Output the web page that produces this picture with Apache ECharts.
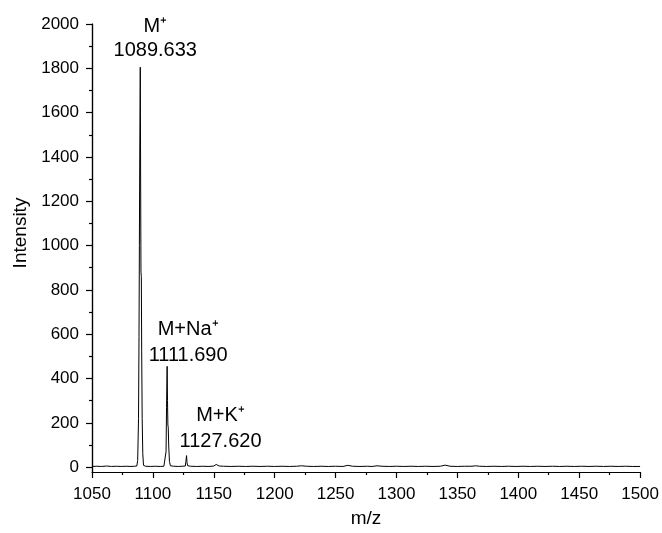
<!DOCTYPE html>
<html>
<head>
<meta charset="utf-8">
<script src="https://cdn.jsdelivr.net/npm/echarts@6/dist/echarts.min.js"></script>
<style>html,body{margin:0;padding:0;background:#fff;}#c{width:662px;height:533px;}</style>
</head>
<body>
<div id="c"></div>
<script>
// m/z sample positions
const mz = [
  1050, 1054, 1058, 1062, 1066, 1070, 1074, 1078, 1082, 1085, 1086.8,
  1087.5, 1088.2, 1088.6, 1088.9, 1089.2, 1089.633, 1089.9, 1090.2, 1090.5, 1090.8, 1091.2, 1091.7, 1092.3,
  1094, 1098, 1102, 1106, 1109, 1110.2,
  1110.8, 1111.2, 1111.69, 1112.0, 1112.3, 1112.6, 1113.0, 1113.6, 1114.4,
  1117, 1121, 1124, 1126.6, 1127.1, 1127.62, 1128.0, 1128.6,
  1131, 1136, 1141, 1146, 1150, 1152, 1153, 1154.5, 1158, 1164, 1170, 1176, 1182, 1188, 1194,
  1200, 1206, 1212, 1218, 1222, 1226, 1232, 1238, 1244, 1250, 1256, 1260, 1264, 1270, 1276,
  1280, 1284, 1288, 1294, 1300, 1306, 1312, 1318, 1324, 1330, 1336, 1340, 1344, 1350, 1356,
  1362, 1365, 1368, 1374, 1380, 1386, 1392, 1398, 1404, 1410, 1416, 1422, 1428, 1434, 1440,
  1446, 1452, 1458, 1464, 1470, 1476, 1482, 1488, 1494, 1500
];
// intensity at each m/z
const intensity = [
  3, 4, 3, 5, 3, 4, 3, 4, 3, 4, 5,
  30, 220, 590, 1000, 1400, 1805, 1350, 880, 860, 520, 220, 60, 8,
  4, 3, 4, 3, 4, 5,
  70, 270, 455, 300, 190, 180, 95, 25, 6,
  4, 3, 4, 5, 25, 52, 20, 6,
  4, 3, 4, 3, 5, 12, 10, 5, 4, 3, 4, 3, 4, 3, 4,
  3, 4, 3, 4, 6, 4, 3, 4, 3, 4, 3, 8, 4, 3, 4,
  3, 6, 4, 3, 4, 3, 4, 3, 4, 3, 4, 9, 4, 3, 4,
  4, 6, 4, 3, 4, 3, 4, 3, 4, 3, 4, 3, 4, 3, 4,
  3, 4, 3, 4, 3, 4, 3, 4, 3, 3
];
// annotations
const labelMz = [1089.633, 1111.69, 1127.62];
const labelIntensity = [1805, 455, 52];
const labelText = ['M\u207A\n1089.633', 'M+Na\u207A\n1111.690', 'M+K\u207A\n1127.620'];
// axis ticks
const yTicks = [0, 200, 400, 600, 800, 1000, 1200, 1400, 1600, 1800, 2000];
const yMinorTicks = [100, 300, 500, 700, 900, 1100, 1300, 1500, 1700, 1900];

const labelOffsets = [[15, 0], [21, 7], [34, 4]];
const lineHeights = [24, 26, 26];
const font = 'Liberation Sans, Arial, sans-serif';

const chart = echarts.init(document.getElementById('c'), null, {renderer: 'canvas'});
const axisCommon = {
  axisLine: {show: true, lineStyle: {color: '#000', width: 1.2}},
  splitLine: {show: false}
};
const plain = v => String(v);
chart.setOption({
  animation: false,
  backgroundColor: '#fff',
  grid: {left: 92, right: 20, top: 24, bottom: 59, containLabel: false},
  xAxis: {
    type: 'value', min: 1050, max: 1500, interval: 50,
    name: 'm/z', nameLocation: 'middle', nameGap: 37,
    nameTextStyle: {fontFamily: font, fontSize: 19, color: '#000'},
    axisLine: {show: true, onZero: false, lineStyle: {color: '#000', width: 1.2}},
    axisTick: {show: true, inside: false, length: 6, lineStyle: {color: '#000', width: 1.2}},
    minorTick: {show: true, splitNumber: 2, length: 3, lineStyle: {color: '#000', width: 1.2}},
    axisLabel: {fontFamily: font, fontSize: 17, color: '#000', margin: 14, formatter: plain},
    splitLine: {show: false}
  },
  yAxis: [{
    type: 'value', min: -22, max: 2000,
    ...axisCommon,
    axisTick: {show: true, inside: false, length: 6, customValues: yTicks, lineStyle: {color: '#000', width: 1.2}},
    axisLabel: {fontFamily: font, fontSize: 17, color: '#000', margin: 13, customValues: yTicks, formatter: plain}
  }, {
    type: 'value', min: -22, max: 2000, position: 'left',
    ...axisCommon,
    axisTick: {show: true, inside: false, length: 3, customValues: yMinorTicks, lineStyle: {color: '#000', width: 1.2}},
    axisLabel: {show: false}
  }],
  graphic: [{
    type: 'text', x: 21, y: 233, rotation: Math.PI / 2,
    style: {text: 'Intensity', font: '19px ' + font, fill: '#000', textAlign: 'center', textVerticalAlign: 'middle'}
  }],
  series: [{
    type: 'line',
    data: mz.map((m, i) => [m, intensity[i]]),
    showSymbol: false, symbol: 'none',
    lineStyle: {color: '#000', width: 1},
    z: 2
  }, {
    type: 'scatter',
    symbolSize: 0,
    data: labelMz.map((m, i) => ({
      value: [m, labelIntensity[i]],
      label: {show: true, position: 'top', offset: labelOffsets[i], formatter: labelText[i],
              fontFamily: font, fontSize: 20, color: '#000', lineHeight: lineHeights[i], align: 'center'}
    })),
    itemStyle: {color: '#000', opacity: 1},
    z: 3
  }]
});
</script>
</body>
</html>
